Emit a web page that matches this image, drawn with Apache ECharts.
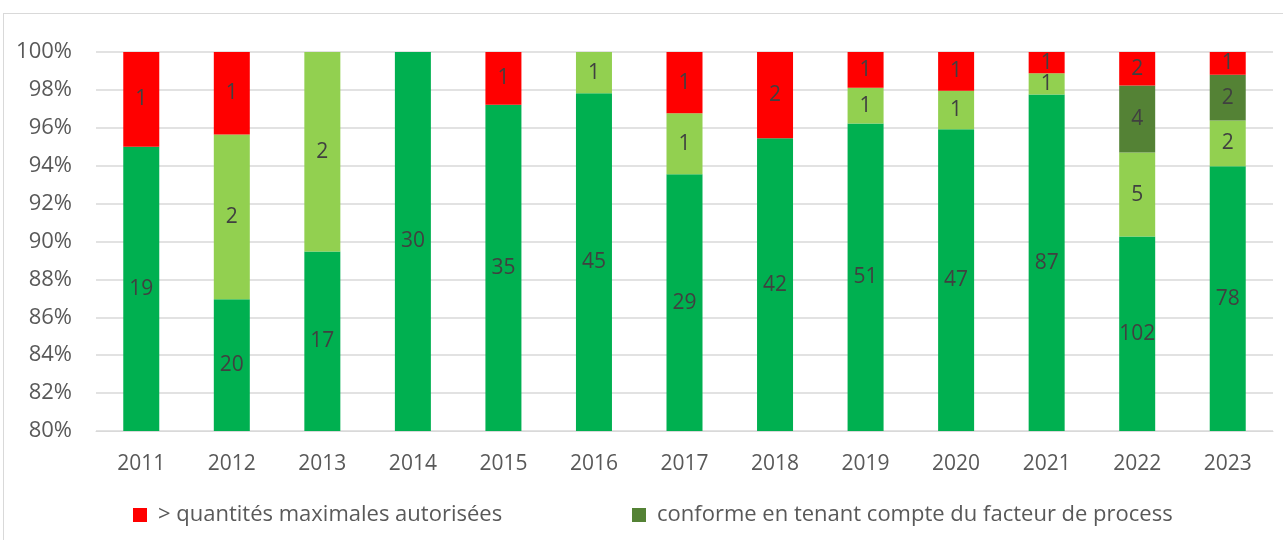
<!DOCTYPE html>
<html>
<head>
<meta charset="utf-8">
<script src="https://cdn.jsdelivr.net/npm/echarts@6/dist/echarts.min.js"></script>
<style>
  html, body { margin: 0; padding: 0; background: #fff; }
  #frame { position: absolute; left: 3px; top: 13px; width: 1290px; height: 540px; border-top: 1px solid #d9d9d9; border-left: 1px solid #d9d9d9; box-sizing: border-box; }
  #chart { position: absolute; left: 0; top: 0; width: 1283px; height: 540px; }
</style>
</head>
<body>
<div id="frame"></div>
<div id="chart"></div>
<script>
var years = ['2011', '2012', '2013', '2014', '2015', '2016', '2017', '2018', '2019', '2020', '2021', '2022', '2023']
// counts per category, bottom to top
var conforme = [19, 20, 17, 30, 35, 45, 29, 42, 51, 47, 87, 102, 78]
var conformeIncert = [0, 2, 2, 0, 0, 1, 1, 0, 1, 1, 1, 5, 2]
var conformeProcess = [0, 0, 0, 0, 0, 0, 0, 0, 0, 0, 0, 4, 2]
var depassement = [1, 1, 0, 0, 1, 0, 1, 2, 1, 1, 1, 2, 1]

var totals = years.map(function (y, i) {
    return conforme[i] + conformeIncert[i] + conformeProcess[i] + depassement[i]
})

function pct(arr) {
    return arr.map(function (v, i) { return { value: v === 0 ? null : v / totals[i] * 100, count: v } })
}

function mkSeries(name, arr, color) {
    return {
        name: name,
        type: 'bar',
        stack: 'all',
        barWidth: 36,
        data: pct(arr),
        itemStyle: { color: color },
        label: {
            show: true,
            position: 'inside',
            color: '#404040',
            fontSize: 21,
            fontFamily: 'Open Sans',
            formatter: function (p) { return p.data.count }
        }
    }
}

var legendText = { color: '#595959', fontSize: 22, fontFamily: 'Open Sans', padding: [0, 0, 0, 6] }

var chart = echarts.init(document.getElementById('chart'))
chart.setOption({
    animation: false,
    textStyle: { fontFamily: 'Open Sans' },
    grid: { left: 96, right: 10, top: 52, bottom: 109 },
    legend: [{
        data: ['> quantités maximales autorisées'],
        top: 499,
        left: 128,
        itemWidth: 14,
        itemHeight: 14,
        icon: 'rect',
        textStyle: legendText
    }, {
        data: ['conforme en tenant compte du facteur de process'],
        top: 499,
        left: 627,
        itemWidth: 14,
        itemHeight: 14,
        icon: 'rect',
        textStyle: legendText
    }],
    xAxis: {
        type: 'category',
        data: years,
        axisLine: { lineStyle: { color: '#d9d9d9', width: 1 } },
        axisTick: { show: false },
        axisLabel: { color: '#595959', fontSize: 21, margin: 23 }
    },
    yAxis: {
        type: 'value',
        min: 80,
        max: 100,
        interval: 2,
        axisLine: { show: false },
        axisTick: { show: false },
        splitLine: { lineStyle: { color: '#d9d9d9', width: 1.5 } },
        axisLabel: { color: '#595959', fontSize: 22, margin: 24, formatter: '{value}%' }
    },
    series: [
        mkSeries('conforme', conforme, '#00b050'),
        mkSeries('conforme en tenant compte de l\'incertitude', conformeIncert, '#92d050'),
        mkSeries('conforme en tenant compte du facteur de process', conformeProcess, '#548235'),
        mkSeries('> quantités maximales autorisées', depassement, '#ff0000')
    ]
})
</script>
</body>
</html>
